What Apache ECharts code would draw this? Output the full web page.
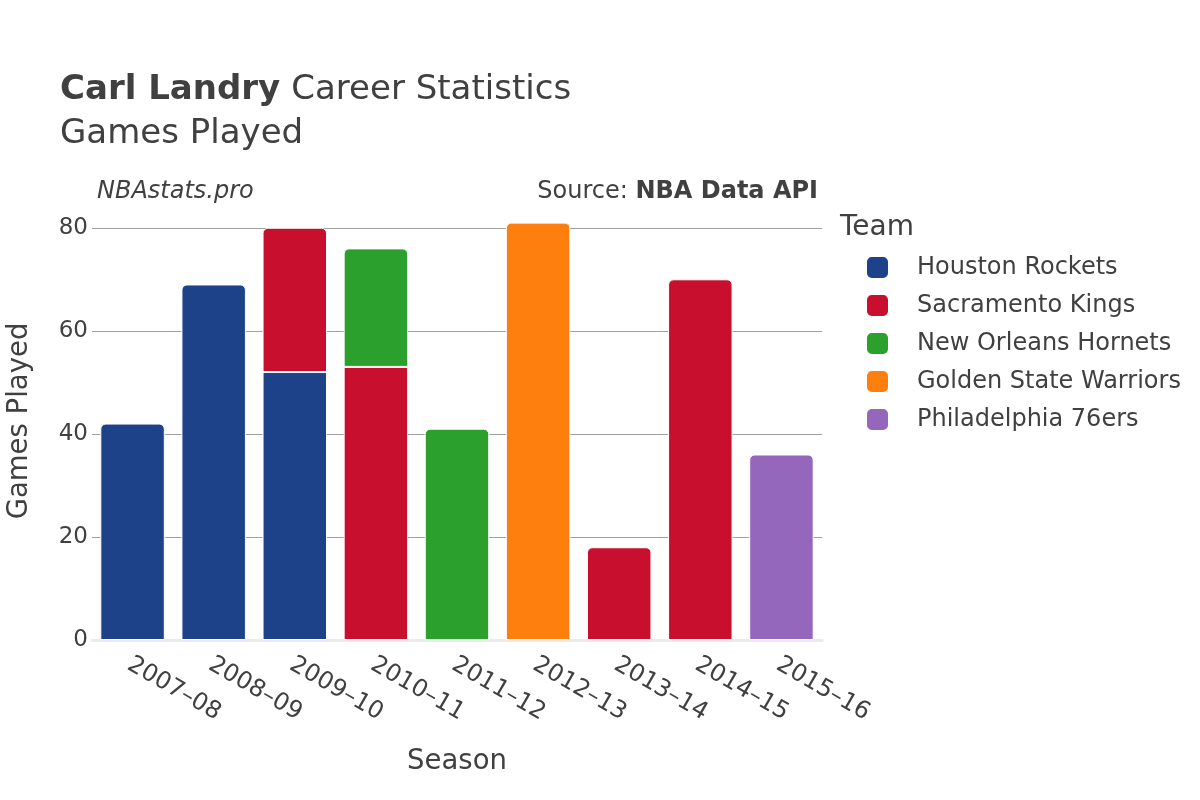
<!DOCTYPE html>
<html>
<head>
<meta charset="utf-8">
<script src="https://cdn.jsdelivr.net/npm/echarts@6/dist/echarts.min.js"></script>
<style>html,body{margin:0;padding:0;background:#fff}#c{width:1200px;height:800px}</style>
</head>
<body>
<div id="c"></div>
<script>
var seasons = ['2007–08','2008–09','2009–10','2010–11','2011–12','2012–13','2013–14','2014–15','2015–16'];
var teams = ['Houston Rockets','Sacramento Kings','New Orleans Hornets','Golden State Warriors','Philadelphia 76ers'];
var teamColors = ['#1d428a','#c8102e','#2ca02c','#ff7f0e','#9467bd'];
var houston = [42, 69, 52, null, null, null, null, null, null];
var sacramento = [null, null, 28, 53, null, null, 18, 70, null];
var hornets = [null, null, null, 23, 41, null, null, null, null];
var warriors = [null, null, null, null, null, 81, null, null, null];
var sixers = [null, null, null, null, null, null, null, null, 36];
var yTicks = [0, 20, 40, 60, 80];

var seriesValues = [houston, sacramento, hornets, warriors, sixers];
var topIdx = seasons.map(function(_, i){
  var t = -1;
  seriesValues.forEach(function(arr, s){ if (arr[i] != null) t = s; });
  return t;
});
var FONT = 'DejaVu Sans';
var TXT = '#404040';
var series = teams.map(function(name, s){
  return {
    name: name,
    type: 'bar',
    stack: 'gp',
    barCategoryGap: '20.5%',
    data: seriesValues[s].map(function(v, i){
      if (v == null) return null;
      return { value: v, itemStyle: { borderRadius: topIdx[i] === s ? [5,5,0,0] : 0 } };
    }),
    itemStyle: { color: teamColors[s], borderColor: '#ffffff', borderWidth: 1 }
  };
});

var chart = echarts.init(document.getElementById('c'), null, {renderer: 'canvas'});
chart.setOption({
  animation: false,
  backgroundColor: '#ffffff',
  textStyle: { fontFamily: FONT },
  title: [{
    left: 60, top: 68, padding: 0,
    text: '{b|Carl Landry}{s| }{n|Career Statistics}\n{n|Games Played}',
    textStyle: {
      fontWeight: 'normal',
      rich: {
        b: { fontFamily: FONT, fontWeight: 'bold', fontSize: 34, color: TXT, lineHeight: 44 },
        s: { fontFamily: FONT, fontWeight: 'normal', fontSize: 34, color: TXT, lineHeight: 44, width: 11 },
        n: { fontFamily: FONT, fontWeight: 'normal', fontSize: 34, color: TXT, lineHeight: 44 }
      }
    }
  }, {
    left: 97, top: 180, padding: 0,
    text: 'NBAstats.pro',
    textStyle: { fontFamily: FONT, fontStyle: 'italic', fontWeight: 'normal', fontSize: 24, color: TXT }
  }, {
    right: 382, top: 180, padding: 0,
    text: '{n|Source: }{b|NBA Data API}',
    textStyle: {
      fontWeight: 'normal',
      rich: {
        n: { fontFamily: FONT, fontSize: 24, fontWeight: 'normal', color: TXT },
        b: { fontFamily: FONT, fontSize: 24, fontWeight: 'bold', color: TXT }
      }
    }
  }, {
    left: 840, top: 214, padding: 0,
    text: 'Team',
    textStyle: { fontFamily: FONT, fontWeight: 'normal', fontSize: 28, color: TXT }
  }],
  legend: {
    orient: 'vertical',
    left: 865, top: 255, padding: 0,
    icon: 'roundRect',
    itemWidth: 23, itemHeight: 23,
    itemGap: 13,
    textStyle: { fontFamily: FONT, fontSize: 24, color: TXT, padding: [0,0,0,23] },
    data: teams
  },
  grid: { left: 92, right: 378, top: 202, bottom: 160, containLabel: false, outerBoundsMode: 'none' },
  xAxis: {
    type: 'category',
    data: seasons,
    name: 'Season',
    nameLocation: 'middle',
    nameGap: 108,
    nameTextStyle: { fontFamily: FONT, fontSize: 27.5, color: TXT },
    axisLine: { show: true, lineStyle: { color: '#ebebeb', width: 3 } },
    axisTick: { show: false },
    axisLabel: { rotate: -30, fontFamily: FONT, fontSize: 24, color: TXT, margin: 11, interval: 0, verticalAlign: 'top', padding: [0, 0, 0, 3] }
  },
  yAxis: {
    type: 'value',
    min: 0, max: 85, interval: 20,
    name: 'Games Played',
    nameLocation: 'middle',
    nameGap: 58,
    nameTextStyle: { fontFamily: FONT, fontSize: 27.5, color: TXT },
    axisLine: { show: false },
    axisTick: { show: false },
    splitLine: { show: true, showMinLine: false, showMaxLine: false, lineStyle: { color: '#a0a0a0', width: 1 } },
    axisLabel: {
      fontFamily: FONT, fontSize: 23, color: TXT, margin: 4, showMaxLabel: false,
      formatter: function(v){ return yTicks.indexOf(v) >= 0 ? String(v) : ''; }
    }
  },
  series: series
});
</script>
</body>
</html>
